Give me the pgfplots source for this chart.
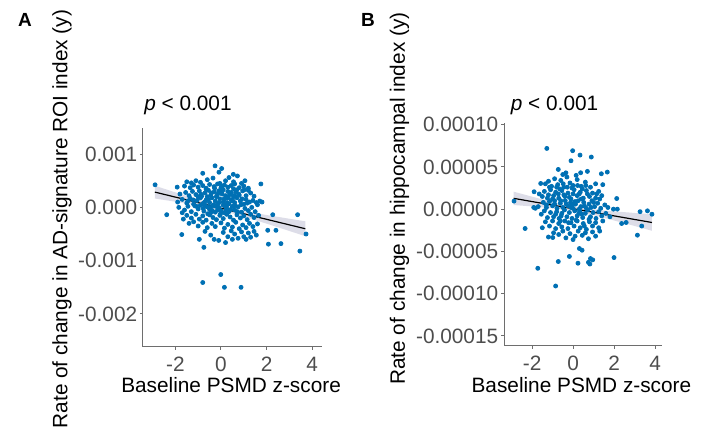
\documentclass[border=0pt]{standalone}
\usepackage{fontspec}
\setmainfont{Liberation Sans}
\usepackage{pgfplots}
\pgfplotsset{compat=1.18}

\definecolor{dotblue}{RGB}{0,112,180}
\definecolor{axgray}{RGB}{110,110,110}
\definecolor{tickgray}{RGB}{77,77,77}
\definecolor{bandgray}{RGB}{150,150,185}

\pgfplotsset{
  psmd/.style={
    scale only axis,
    axis lines*=left,
    axis line style={axgray, line width=0.5pt},
    tick style={axgray, line width=0.5pt},
    tick align=outside,
    major tick length=1.5pt,
    scaled x ticks=false, scaled y ticks=false,
    xtick={-2,0,2,4},
    xticklabels={-2,0,2,4},
    /pgf/number format/assume math mode=true,
    tick label style={font=\fontsize{10.4}{12}\selectfont, text=tickgray},
    yticklabel style={inner xsep=1.2pt},
    label style={font=\fontsize{10.4}{12}\selectfont},
    % the default title style shifts up by 6pt; cancel it
    title style={font=\fontsize{10.4}{12}\selectfont, anchor=base, yshift=-6pt},
    xlabel={Baseline PSMD z-score},
  },
  dots/.style={only marks, mark=*, mark size=1pt, color=dotblue},
  band/.style={draw=none, fill=bandgray, fill opacity=0.32},
  fit/.style={black, line width=0.6pt},
}

\begin{document}
\begin{tikzpicture}
\useasboundingbox (0,0) rectangle (351pt,213.5pt);

\node[font=\fontsize{9.5}{11}\selectfont\bfseries] at (12.5pt,203.5pt) {A};
\node[font=\fontsize{9.5}{11}\selectfont\bfseries] at (184pt,203.5pt) {B};

% ---------------- panel A ----------------
\begin{axis}[psmd,
  at={(71.5pt,40pt)}, anchor=south west,
  width=89.5pt, height=109.5pt,
  xmin=-3.42, xmax=4.43, ymin=-0.00262, ymax=0.00149,
  ytick={-0.002,-0.001,0,0.001},
  yticklabels={-0.002,-0.001,0.000,0.001},
  ylabel={Rate of change in AD-signature ROI index (y)},
  ylabel style={at={(axis description cs:-0.453,0.584)}, anchor=center},
  xlabel style={at={(axis description cs:0.492,-0.174)}, anchor=center},
  title={\textit{p} < 0.001},
  title style={at={(axis description cs:0.251,1.082)}},
]
\addplot[dots] table {
x y
-2.89 0.424e-3
-2.38 -0.137e-3
-1.72 -0.51e-3
-1.92 0.38e-3
-0.75 -0.75e-3
-0.95 -0.60e-3
-0.80 0.64e-3
-0.26 0.78e-3
0.03 0.73e-3
-0.09 0.66e-3
0.54 0.62e-3
0.72 0.59e-3
1.75 0.44e-3
2.27 -0.137e-3
2.05 -0.43e-3
2.41 -0.43e-3
2.08 -0.69e-3
2.63 -0.68e-3
3.36 -0.137e-3
3.46 -0.82e-3
3.73 -0.50e-3
-0.80 -1.41e-3
-0.01 -1.26e-3
0.15 -1.50e-3
0.88 -1.50e-3
-1.5 0.48e-3
-1.3 0.46e-3
-1.1 0.50e-3
-0.6 0.52e-3
-0.35 0.55e-3
0.2 0.50e-3
0.35 0.56e-3
0.55 0.48e-3
0.9 0.45e-3
1.05 0.50e-3
-0.9 0.47e-3
-1.6 0.40e-3
-1.35 0.37e-3
-1.2 0.42e-3
-1.0 0.38e-3
-0.8 0.41e-3
-0.65 0.36e-3
-0.5 0.43e-3
-0.3 0.39e-3
-0.15 0.44e-3
0.0 0.37e-3
0.15 0.42e-3
0.3 0.38e-3
0.45 0.41e-3
0.6 0.44e-3
0.8 0.37e-3
1.0 0.40e-3
1.2 0.36e-3
-0.05 0.45e-3
0.7 0.33e-3
-1.8 0.25e-3
-1.55 0.28e-3
-1.4 0.22e-3
-1.25 0.30e-3
-1.1 0.24e-3
-0.95 0.31e-3
-0.85 0.21e-3
-0.7 0.27e-3
-0.55 0.32e-3
-0.45 0.23e-3
-0.3 0.29e-3
-0.2 0.20e-3
-0.1 0.31e-3
0.05 0.25e-3
0.2 0.22e-3
0.3 0.30e-3
0.45 0.26e-3
0.55 0.20e-3
0.65 0.29e-3
0.8 0.23e-3
0.95 0.31e-3
1.1 0.22e-3
1.3 0.27e-3
1.45 0.21e-3
0.1 0.33e-3
-0.6 0.20e-3
1.2 0.32e-3
-1.0 0.20e-3
-1.9 0.10e-3
-1.7 0.15e-3
-1.5 0.08e-3
-1.35 0.17e-3
-1.2 0.06e-3
-1.05 0.13e-3
-0.9 0.18e-3
-0.8 0.07e-3
-0.65 0.14e-3
-0.5 0.09e-3
-0.4 0.18e-3
-0.25 0.12e-3
-0.15 0.06e-3
-0.05 0.16e-3
0.1 0.10e-3
0.2 0.17e-3
0.35 0.07e-3
0.45 0.14e-3
0.6 0.09e-3
0.7 0.18e-3
0.85 0.12e-3
1.0 0.06e-3
1.1 0.15e-3
1.25 0.10e-3
1.4 0.13e-3
1.55 0.09e-3
1.7 0.12e-3
1.8 0.10e-3
-0.7 0.04e-3
0.25 0.03e-3
1.6 0.05e-3
-1.85 0.0
-1.6 -0.05e-3
-1.45 0.02e-3
-1.3 -0.08e-3
-1.15 0.03e-3
-1.0 -0.03e-3
-0.9 0.04e-3
-0.75 -0.07e-3
-0.6 0.01e-3
-0.5 -0.04e-3
-0.35 0.03e-3
-0.25 -0.09e-3
-0.1 0.0
0.0 -0.06e-3
0.1 0.04e-3
0.25 -0.02e-3
0.35 -0.08e-3
0.5 0.02e-3
0.6 -0.05e-3
0.75 0.01e-3
0.9 -0.09e-3
1.05 -0.02e-3
1.2 -0.06e-3
1.35 0.0
1.5 -0.08e-3
-0.45 -0.10e-3
0.15 -0.10e-3
-1.7 -0.10e-3
-1.5 -0.15e-3
-1.3 -0.20e-3
-1.1 -0.13e-3
-0.95 -0.22e-3
-0.8 -0.16e-3
-0.65 -0.24e-3
-0.5 -0.14e-3
-0.35 -0.19e-3
-0.2 -0.23e-3
-0.05 -0.15e-3
0.1 -0.21e-3
0.25 -0.13e-3
0.4 -0.18e-3
0.55 -0.24e-3
0.7 -0.14e-3
0.85 -0.20e-3
1.0 -0.16e-3
1.15 -0.23e-3
1.3 -0.13e-3
1.45 -0.19e-3
1.65 -0.15e-3
-1.65 -0.22e-3
-1.4 -0.30e-3
-1.0 -0.35e-3
-0.8 -0.28e-3
-0.6 -0.38e-3
-0.4 -0.30e-3
-0.25 -0.36e-3
0.0 -0.29e-3
0.15 -0.39e-3
0.3 -0.32e-3
0.5 -0.37e-3
0.65 -0.28e-3
0.8 -0.40e-3
0.95 -0.33e-3
1.1 -0.38e-3
1.25 -0.30e-3
1.4 -0.36e-3
1.6 -0.31e-3
-1.2 -0.27e-3
-0.7 -0.45e-3
-0.45 -0.52e-3
-0.3 -0.60e-3
0.1 -0.47e-3
0.3 -0.55e-3
0.45 -0.44e-3
0.6 -0.50e-3
0.75 -0.58e-3
0.9 -0.46e-3
1.0 -0.55e-3
1.1 -0.60e-3
1.2 -0.48e-3
1.3 -0.56e-3
1.45 -0.45e-3
1.55 -0.52e-3
-0.1 -0.62e-3
0.2 -0.66e-3
0.5 -0.60e-3
-0.55 0.15e-3
-0.42 0.27e-3
-0.32 0.05e-3
-0.18 0.22e-3
-0.08 0.09e-3
0.03 0.28e-3
0.14 0.16e-3
0.27 0.09e-3
0.38 0.24e-3
0.52 0.12e-3
0.63 0.03e-3
0.42 -0.04e-3
0.22 -0.06e-3
-0.02 -0.12e-3
-0.22 0.02e-3
-0.38 -0.06e-3
-0.58 -0.12e-3
-0.72 0.10e-3
-0.88 0.25e-3
-1.08 0.02e-3
0.78 0.25e-3
0.92 0.16e-3
1.02 0.33e-3
-0.28 0.36e-3
0.05 0.40e-3
0.55 0.35e-3
-0.65 0.34e-3
-1.22 0.14e-3
0.32 0.18e-3
-0.12 0.26e-3
0.72 -0.08e-3
0.88 0.05e-3
-0.48 0.0
-0.15 -0.05e-3
0.18 0.02e-3
0.45 0.28e-3
-0.78 -0.02e-3
1.15 0.08e-3
-1.45 0.12e-3
0.6 0.22e-3
};
% confidence band (upper edge then lower edge back)
\addplot[band] coordinates {
(-2.9,0.407e-3) (-2,0.282e-3) (-1,0.147e-3) (0,0.025e-3) (1,-0.067e-3)
(2,-0.143e-3) (3,-0.213e-3) (3.7,-0.261e-3)
(3.7,-0.541e-3) (3,-0.443e-3) (2,-0.305e-3) (1,-0.171e-3) (0,-0.055e-3)
(-1,0.032e-3) (-2,0.106e-3) (-2.9,0.167e-3)
} -- cycle;
\addplot[fit] coordinates {(-2.9,0.287e-3) (3.7,-0.401e-3)};
\end{axis}

% ---------------- panel B ----------------
\begin{axis}[psmd,
  at={(252pt,40.5pt)}, anchor=south west,
  width=79pt, height=111.5pt,
  xmin=-3.37, xmax=4.34, ymin=-0.000162, ymax=0.000102,
  ytick={-0.00015,-0.0001,-0.00005,0,0.00005,0.0001},
  yticklabels={-0.00015,-0.00010,-0.00005,0.00000,0.00005,0.00010},
  ylabel={Rate of change in hippocampal index (y)},
  ylabel style={at={(axis description cs:-0.661,0.661)}, anchor=center},
  xlabel style={at={(axis description cs:0.49,-0.175)}, anchor=center},
  title={\textit{p} < 0.001},
  title style={at={(axis description cs:0.32,1.058)}},
]
\addplot[dots] table {
x y
-1.28 7.19e-5
-0.02 6.92e-5
0.34 6.4e-5
0.89 6.17e-5
-0.10 5.73e-5
-2.88 0.95e-5
-2.34 -2.29e-5
-1.72 -7.0e-5
-0.85 -9.1e-5
-0.72 -6.2e-5
-0.18 -5.6e-5
0.24 -6.4e-5
0.31 -4.66e-5
0.44 -4.86e-5
0.75 -6.3e-5
0.85 -5.85e-5
0.96 -6.0e-5
0.82 -6.5e-5
2.00 -5.73e-5
-0.99 -3.36e-5
3.14 -3.08e-5
3.35 -2.0e-5
3.27 -0.3e-5
3.63 -0.2e-5
3.85 -0.6e-5
2.37 -1.7e-5
2.59 -1.58e-5
2.13 1.26e-5
1.97 0.0
2.16 0.0
1.67 4.39e-5
1.38 4.19e-5
-0.72 4.7e-5
0.37 4.31e-5
0.70 4.47e-5
-1.92 0.2e-5
-1.84 0.1e-5
-1.90 2.06e-5
-1.58 3.04e-5
-1.35 3.0e-5
-1.2 3.3e-5
-1.05 2.7e-5
-0.9 3.6e-5
-0.75 2.9e-5
-0.6 3.4e-5
-0.45 2.6e-5
-0.3 3.8e-5
-0.15 3.1e-5
0.0 2.8e-5
0.2 3.5e-5
0.4 2.7e-5
0.6 3.2e-5
0.85 2.6e-5
1.1 3.0e-5
-0.5 4.1e-5
-0.35 4.3e-5
0.15 4.0e-5
1.45 2.9e-5
-1.15 2.6e-5
-1.5 1.5e-5
-1.4 2.1e-5
-1.25 1.3e-5
-1.1 2.3e-5
-0.95 1.6e-5
-0.85 2.0e-5
-0.7 1.3e-5
-0.55 2.2e-5
-0.4 1.5e-5
-0.25 1.9e-5
-0.1 1.2e-5
0.05 2.3e-5
0.2 1.6e-5
0.35 2.0e-5
0.5 1.3e-5
0.65 2.2e-5
0.8 1.5e-5
0.95 1.9e-5
1.1 1.3e-5
1.25 2.1e-5
1.4 1.6e-5
-1.65 1.8e-5
-0.65 2.4e-5
0.45 2.4e-5
-1.7 0.3e-5
-1.45 0.8e-5
-1.3 0.2e-5
-1.15 0.9e-5
-1.0 0.4e-5
-0.9 1.0e-5
-0.78 0.1e-5
-0.62 0.7e-5
-0.5 0.2e-5
-0.38 1.0e-5
-0.25 0.4e-5
-0.12 0.8e-5
0.0 0.1e-5
0.12 0.6e-5
0.25 1.0e-5
0.38 0.3e-5
0.52 0.8e-5
0.65 0.1e-5
0.78 0.6e-5
0.92 1.0e-5
1.05 0.3e-5
1.2 0.7e-5
1.35 0.1e-5
1.55 0.5e-5
1.7 0.2e-5
-0.05 0.5e-5
0.3 0.0
-1.55 -0.6e-5
-1.4 -0.2e-5
-1.25 -1.0e-5
-1.1 -0.4e-5
-0.95 -0.9e-5
-0.8 -0.3e-5
-0.68 -1.1e-5
-0.55 -0.5e-5
-0.42 -0.1e-5
-0.3 -0.9e-5
-0.18 -0.4e-5
-0.05 -1.1e-5
0.08 -0.2e-5
0.2 -0.8e-5
0.33 -0.3e-5
0.47 -1.0e-5
0.6 -0.5e-5
0.72 -0.1e-5
0.85 -0.9e-5
0.98 -0.4e-5
1.12 -1.1e-5
1.25 -0.3e-5
1.4 -0.8e-5
1.6 -0.5e-5
1.8 -0.9e-5
-1.35 -1.5e-5
-1.15 -2.0e-5
-1.0 -1.4e-5
-0.85 -2.3e-5
-0.7 -1.7e-5
-0.55 -2.1e-5
-0.4 -1.4e-5
-0.25 -2.3e-5
-0.1 -1.6e-5
0.05 -2.0e-5
0.2 -1.4e-5
0.35 -2.2e-5
0.5 -1.7e-5
0.65 -2.4e-5
0.8 -1.5e-5
0.95 -2.0e-5
1.1 -1.6e-5
1.25 -2.2e-5
1.45 -1.4e-5
-1.5 -2.2e-5
-0.95 -2.8e-5
-0.7 -3.0e-5
-0.5 -2.6e-5
-0.35 -3.4e-5
-0.15 -2.9e-5
0.1 -3.2e-5
0.25 -2.6e-5
0.45 -3.1e-5
0.6 -2.8e-5
0.75 -3.5e-5
0.95 -2.7e-5
1.1 -3.2e-5
1.3 -2.6e-5
-1.2 -3.3e-5
0.0 -3.6e-5
-1.0 1.2e-5
-0.8 2.6e-5
-0.6 1.0e-5
-0.45 1.7e-5
-0.28 2.6e-5
-0.18 1.4e-5
0.0 1.8e-5
0.1 0.9e-5
0.22 2.8e-5
0.4 1.2e-5
0.55 0.4e-5
0.7 1.8e-5
0.88 0.2e-5
-0.9 0.6e-5
-0.72 1.8e-5
-1.2 1.7e-5
-0.33 0.6e-5
-0.05 2.5e-5
0.3 1.8e-5
0.62 2.8e-5
-0.58 -0.8e-5
-0.22 -1.6e-5
0.15 -1.3e-5
0.42 -0.6e-5
0.78 -1.2e-5
1.0 0.8e-5
-1.3 0.5e-5
-0.48 3.0e-5
-0.1 0.2e-5
0.28 -0.5e-5
1.15 1.8e-5
-0.85 -0.6e-5
0.55 -2.0e-5
-0.62 -1.4e-5
1.3 1.2e-5
};
\addplot[band] coordinates {
(-2.9,2.07e-5) (-2,1.48e-5) (-1,0.84e-5) (0,0.29e-5) (1,-0.04e-5)
(2,-0.26e-5) (3,-0.45e-5) (3.85,-0.60e-5)
(3.85,-2.56e-5) (3,-1.99e-5) (2,-1.34e-5) (1,-0.70e-5) (0,-0.19e-5)
(-1,0.10e-5) (-2,0.32e-5) (-2.9,0.49e-5)
} -- cycle;
\addplot[fit] coordinates {(-2.9,1.28e-5) (3.85,-1.58e-5)};
\end{axis}
\end{tikzpicture}
\end{document}
